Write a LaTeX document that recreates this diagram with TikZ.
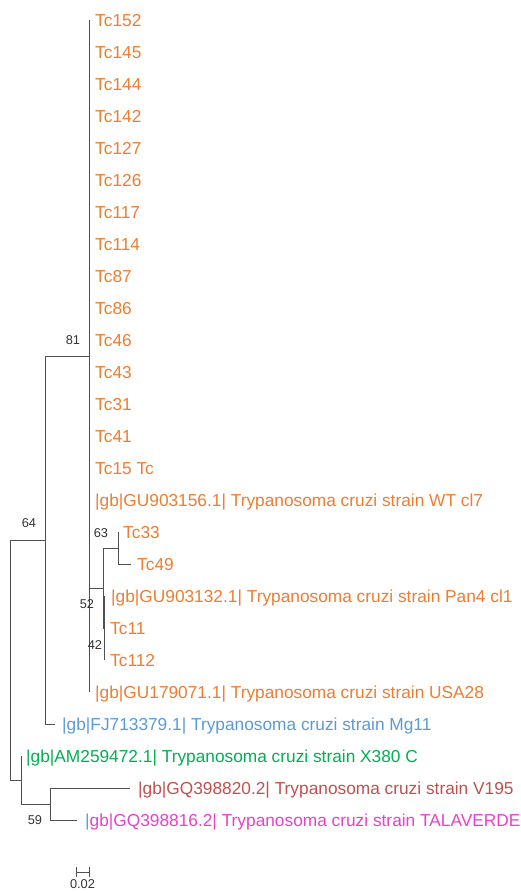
\documentclass[tikz,border=0pt]{standalone}
\usepackage{fontspec}
\setmainfont{Liberation Sans}
\definecolor{torange}{HTML}{ED7D31}
\definecolor{tblue}{HTML}{5B9BD5}
\definecolor{tgreen}{HTML}{00B050}
\definecolor{tred}{HTML}{C0504D}
\definecolor{tpink}{HTML}{E840CC}
\definecolor{branch}{HTML}{505050}
\begin{document}
\begin{tikzpicture}[x=1pt,y=-1pt,
  leaf/.style={anchor=west, inner xsep=6pt, inner ysep=0pt, text height=12.4pt,
    text depth=0pt, font=\fontsize{17.3}{20}\selectfont},
  support/.style={inner sep=0pt, font=\fontsize{12.8}{15}\selectfont, text=black!80},
  edge/.style={draw=branch, line width=0.9pt}]
\useasboundingbox (0,0) rectangle (521,893);

% internal nodes
\coordinate (root) at (10,660);
\coordinate (n64) at (45,540);
\coordinate (n81) at (89,356);
\coordinate (n52) at (103,588);
\coordinate (n63) at (118,548);
\coordinate (n42) at (104,628);
\coordinate (nB) at (21,780);
\coordinate (n59) at (50,804);

% leaves
\node[leaf, text=torange] (l0)  at (89,20)  {Tc152};
\node[leaf, text=torange] (l1)  at (89,52)  {Tc145};
\node[leaf, text=torange] (l2)  at (89,84)  {Tc144};
\node[leaf, text=torange] (l3)  at (89,116) {Tc142};
\node[leaf, text=torange] (l4)  at (89,148) {Tc127};
\node[leaf, text=torange] (l5)  at (89,180) {Tc126};
\node[leaf, text=torange] (l6)  at (89,212) {Tc117};
\node[leaf, text=torange] (l7)  at (89,244) {Tc114};
\node[leaf, text=torange] (l8)  at (89,276) {Tc87};
\node[leaf, text=torange] (l9)  at (89,308) {Tc86};
\node[leaf, text=torange] (l10) at (89,340) {Tc46};
\node[leaf, text=torange] (l11) at (89,372) {Tc43};
\node[leaf, text=torange] (l12) at (89,404) {Tc31};
\node[leaf, text=torange] (l13) at (89,436) {Tc41};
\node[leaf, text=torange] (l14) at (89,468) {Tc15 Tc};
\node[leaf, text=torange] (l15) at (89,500) {|gb|GU903156.1| Trypanosoma cruzi strain WT cl7};
\node[leaf, text=torange, inner xsep=5pt] (l16) at (118,532) {Tc33};
\node[leaf, text=torange] (l17) at (131,564) {Tc49};
\node[leaf, text=torange, inner xsep=7pt] (l18) at (104,596) {|gb|GU903132.1| Trypanosoma cruzi strain Pan4 cl1};
\node[leaf, text=torange] (l19) at (104,628) {Tc11};
\node[leaf, text=torange] (l20) at (104,660) {Tc112};
\node[leaf, text=torange] (l21) at (89,692) {|gb|GU179071.1| Trypanosoma cruzi strain USA28};
\node[leaf, text=tblue, inner xsep=7pt] (l22) at (55,724) {|gb|FJ713379.1| Trypanosoma cruzi strain Mg11};
\node[leaf, text=tgreen, inner xsep=5pt] (l23) at (21,756) {|gb|AM259472.1| Trypanosoma cruzi strain X380 C};
\node[leaf, text=tred, inner xsep=8pt] (l24) at (130,788) {|gb|GQ398820.2| Trypanosoma cruzi strain V195};
\node[leaf, text=tpink, inner xsep=8pt] (l25) at (77,820) {{\color{tblue}|}gb|GQ398816.2| Trypanosoma cruzi strain TALAVERDE};

% branches
\foreach \i in {0,...,15,21} \draw[edge] (n81) |- (l\i.west);
\draw[edge] (n81) |- (n52);
\draw[edge] (n52) |- (n63);
\draw[edge] (n52) |- (n42);
\draw[edge] (n63) |- (l16.west);
\draw[edge] (n63) |- (l17.west);
\foreach \i in {18,19,20} \draw[edge] (n42) |- (l\i.west);
\draw[edge] (n64) |- (n81);
\draw[edge] (n64) |- (l22.west);
\draw[edge] (root) |- (n64);
\draw[edge] (root) |- (nB);
\draw[edge] (nB) |- (l23.west);
\draw[edge] (nB) |- (n59);
\draw[edge] (n59) |- (l24.west);
\draw[edge] (n59) |- (l25.west);

% bootstrap values
\node[support] (b81) at (73,340) {81};
\node[support] (b64) at (29,523) {64};
\node[support] (b63) at (101,533) {63};
\node[support] (b52) at (87,604) {52};
\node[support] (b42) at (95,645) {42};
\node[support] (b59) at (35,820) {59};

% scale bar
\coordinate (sbL) at (76,872);
\coordinate (sbR) at (89,872);
\draw[edge] (sbL) -- (sbR);
\draw[edge] ([yshift=5pt]sbL) -- ([yshift=-5pt]sbL);
\draw[edge] ([yshift=5pt]sbR) -- ([yshift=-5pt]sbR);
\node[support] (sblab) at (82.5,884) {0.02};
\end{tikzpicture}
\end{document}
